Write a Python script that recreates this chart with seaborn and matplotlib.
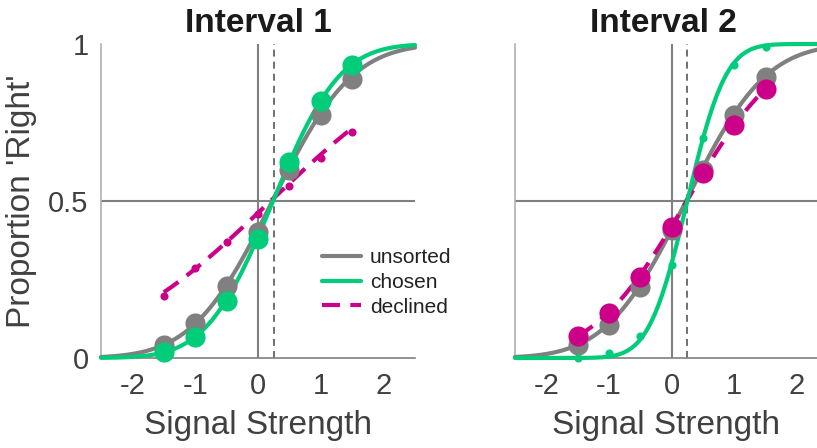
import math
import numpy as np
import pandas as pd
import matplotlib
matplotlib.use("Agg")
import matplotlib.pyplot as plt
import seaborn as sns
from matplotlib.lines import Line2D

# ---------------- data ----------------
signal = [-1.5, -1.0, -0.5, 0.0, 0.5, 1.0, 1.5]

# Interval 1
int1_unsorted = [0.041, 0.110, 0.229, 0.402, 0.599, 0.774, 0.890]
int1_chosen = [0.020, 0.068, 0.180, 0.378, 0.625, 0.820, 0.933]
int1_declined = [0.199, 0.286, 0.370, 0.460, 0.548, 0.636, 0.720]

# Interval 2
int2_unsorted = [0.041, 0.105, 0.227, 0.408, 0.599, 0.774, 0.896]
int2_chosen = [0.000, 0.015, 0.071, 0.296, 0.700, 0.933, 0.991]
int2_declined = [0.070, 0.142, 0.259, 0.418, 0.588, 0.742, 0.856]

# fitted cumulative-Gaussian parameters (bias, spread)
int1_fit_unsorted = (0.23, 1.00)
int1_fit_chosen = (0.24, 0.83)
int1_fit_declined = (0.20, 2.10)
int2_fit_unsorted = (0.23, 1.00)
int2_fit_chosen = (0.25, 0.48)
int2_fit_declined = (0.24, 1.18)

bias_line = 0.25
titles = ["Interval 1", "Interval 2"]
legend_labels = ["unsorted", "chosen", "declined"]
xticks = [-2, -1, 0, 1, 2]
yticks = [0, 0.5, 1]
ytick_labels = ["0", "0.5", "1"]

GRAY = "#808080"
GREEN = "#00cc7a"
MAGENTA = "#cc0088"
TXT = "#404040"
DASH = (0, (4.3, 2.5))

sns.set_theme(style="white")
plt.rcParams["font.family"] = ["Liberation Sans", "DejaVu Sans"]


def cum_gauss(x, mu, sd):
    return np.array([0.5 * (1 + math.erf((v - mu) / (sd * math.sqrt(2)))) for v in x])


fig = plt.figure(figsize=(8.17, 4.48), dpi=100)
ax1 = fig.add_axes([101 / 817, 90 / 448, 314 / 817, 314 / 448])
ax2 = fig.add_axes([515 / 817, 90 / 448, 302 / 817, 314 / 448])


def draw_panel(ax, xlim, f_uns, f_cho, f_dec, big_series, small_series):
    # reference lines
    ax.axvline(0, color=GRAY, lw=1.5, zorder=1)
    ax.axhline(0.5, color=GRAY, lw=1.5, zorder=1)
    ax.axvline(bias_line, color="#707070", lw=1.4, linestyle=(0, (3.6, 2.6)), zorder=1)

    xs_full = np.linspace(xlim[0], xlim[1], 300)
    xs_dec = np.linspace(signal[0], signal[-1], 200)
    sns.lineplot(x=xs_full, y=cum_gauss(xs_full, *f_uns), color=GRAY, lw=3,
                 ax=ax, zorder=3, clip_on=False)
    sns.lineplot(x=xs_full, y=cum_gauss(xs_full, *f_cho), color=GREEN, lw=3,
                 ax=ax, zorder=4, clip_on=False)
    sns.lineplot(x=xs_dec, y=cum_gauss(xs_dec, *f_dec), color=MAGENTA, lw=3,
                 linestyle=DASH, ax=ax, zorder=3.5, clip_on=False)

    z = 5
    for vals, col, size in big_series + small_series:
        sns.scatterplot(x=signal, y=vals, color=col, s=size, linewidth=0,
                        ax=ax, zorder=z, clip_on=False)
        z += 1

    ax.set_xlim(*xlim)
    ax.set_ylim(0, 1)
    ax.set_xticks(xticks)
    ax.set_xticklabels([str(t) for t in xticks])
    ax.set_yticks(yticks)
    for s in ["top", "right"]:
        ax.spines[s].set_visible(False)
    ax.spines["left"].set_color("#b0b0b0")
    ax.spines["left"].set_linewidth(1.2)
    ax.spines["bottom"].set_color(GRAY)
    ax.spines["bottom"].set_linewidth(1.2)
    ax.tick_params(direction="in", length=3.5, width=1, color="#a0a0a0",
                   labelsize=21, labelcolor=TXT, pad=9)
    ax.tick_params(axis="x", pad=10)
    ax.set_xlabel("Signal Strength", fontsize=24, color=TXT, labelpad=7)


BIG = 210
SMALL = 34
draw_panel(ax1, (-2.5, 2.5),
           int1_fit_unsorted, int1_fit_chosen, int1_fit_declined,
           [(int1_unsorted, GRAY, BIG), (int1_chosen, GREEN, BIG)],
           [(int1_declined, MAGENTA, SMALL)])
draw_panel(ax2, (-2.5, 2.32),
           int2_fit_unsorted, int2_fit_chosen, int2_fit_declined,
           [(int2_unsorted, GRAY, BIG), (int2_declined, MAGENTA, BIG)],
           [(int2_chosen, GREEN, SMALL)])

ax1.set_yticklabels(ytick_labels)
ax2.set_yticklabels([])
ax1.set_ylabel("Proportion 'Right'", fontsize=24, color=TXT, labelpad=8)
ax2.set_ylabel("")
ax1.set_title(titles[0], fontsize=24, fontweight="bold", color="#1a1a1a", pad=9)
ax2.set_title(titles[1], fontsize=24, fontweight="bold", color="#1a1a1a", pad=9)
ax2.title.set_position((0.49, 1.0))

handles = [
    Line2D([], [], color=GRAY, lw=3),
    Line2D([], [], color=GREEN, lw=3),
    Line2D([], [], color=MAGENTA, lw=3, linestyle=DASH),
]
leg = ax1.legend(handles, legend_labels, loc="upper left",
                 bbox_to_anchor=(0.703, 0.35), frameon=False, fontsize=15,
                 handlelength=1.87, handletextpad=0.43, labelspacing=0.28,
                 borderpad=0, borderaxespad=0)
for t in leg.get_texts():
    t.set_color("#222222")

fig.savefig("out.png", dpi=100)
